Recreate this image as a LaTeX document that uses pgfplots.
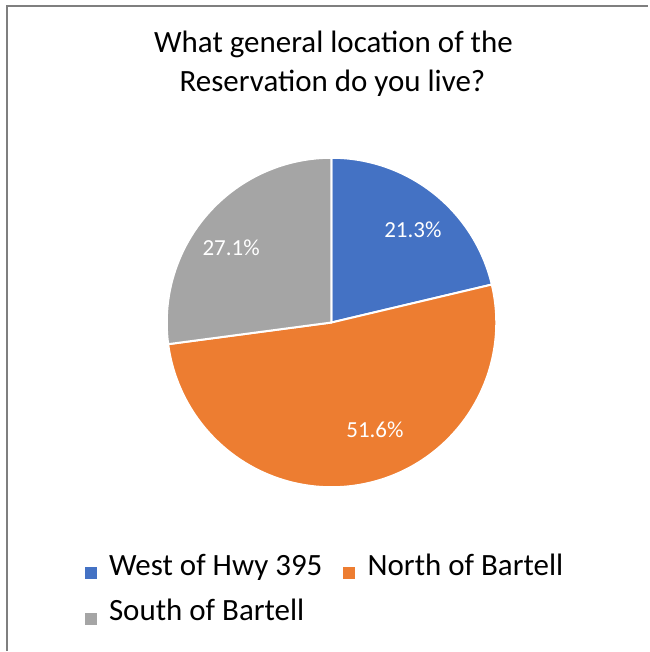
\documentclass[border=0pt]{standalone}
\usepackage{pgfplots}
\pgfplotsset{compat=1.18}
\usepackage{fontspec}
\setmainfont{Carlito}
\definecolor{cblue}{HTML}{4472C4}
\definecolor{corange}{HTML}{ED7D31}
\definecolor{cgray}{HTML}{A5A5A5}
\definecolor{cframe}{HTML}{7F7F7F}
\begin{document}
\begin{tikzpicture}
% data (percent)
\pgfmathsetmacro{\va}{21.3}% West of Hwy 395
\pgfmathsetmacro{\vb}{51.6}% North of Bartell
\pgfmathsetmacro{\vc}{27.1}% South of Bartell
\pgfmathsetmacro{\aA}{90}
\pgfmathsetmacro{\aB}{\aA-3.6*\va}
\pgfmathsetmacro{\aC}{\aB-3.6*\vb}
\pgfmathsetmacro{\aD}{\aC-3.6*\vc}
\begin{axis}[x={(1pt,0)}, y={(0,1pt)}, xmin=0, xmax=649, ymin=0, ymax=652,
  hide axis, clip=false, anchor=origin, at={(0,0)}]
\path (axis cs:0,0) rectangle (axis cs:649,652);
% frame (top and left)
\draw[cframe, line width=2pt] (axis cs:7,0) -- (axis cs:7,645.5) -- (axis cs:649,645.5);
% wedges
\fill[cblue, draw=white, line width=2pt, line join=round] (axis cs:332,329) -- ([shift={(\aA:165pt)}]axis cs:332,329) arc[start angle=\aA, end angle=\aB, radius=165pt] -- cycle;
\fill[corange, draw=white, line width=2pt, line join=round] (axis cs:332,329) -- ([shift={(\aB:165pt)}]axis cs:332,329) arc[start angle=\aB, end angle=\aC, radius=165pt] -- cycle;
\fill[cgray, draw=white, line width=2pt, line join=round] (axis cs:332,329) -- ([shift={(\aC:165pt)}]axis cs:332,329) arc[start angle=\aC, end angle=\aD, radius=165pt] -- cycle;
% data labels
\node[white, inner sep=0pt, font=\fontsize{23}{28}\selectfont] at (axis cs:413.5,421.5) {21.3\%};
\node[white, inner sep=0pt, font=\fontsize{23}{28}\selectfont] at (axis cs:375.5,221.5) {51.6\%};
\node[white, inner sep=0pt, font=\fontsize{23}{28}\selectfont] at (axis cs:231.5,403.5) {27.1\%};
% title
\node[anchor=base, inner sep=0pt, font=\fontsize{31}{39}\selectfont] at (axis cs:334,599) {What general location of the};
\node[anchor=base, inner sep=0pt, font=\fontsize{31}{39}\selectfont] at (axis cs:333,560) {Reservation do you live?};
% legend
\fill[cblue] (axis cs:85,72) rectangle (axis cs:97,84);
\node[anchor=base west, inner sep=0pt, font=\fontsize{31}{36}\selectfont] at (axis cs:109,76) {West of Hwy 395};
\fill[corange] (axis cs:344,72) rectangle (axis cs:356,84);
\node[anchor=base west, inner sep=0pt, font=\fontsize{31}{36}\selectfont] at (axis cs:368,76) {North of Bartell};
\fill[cgray] (axis cs:85,26.5) rectangle (axis cs:97,38.5);
\node[anchor=base west, inner sep=0pt, font=\fontsize{31}{36}\selectfont] at (axis cs:109,31) {South of Bartell};
\end{axis}
\end{tikzpicture}
\end{document}
